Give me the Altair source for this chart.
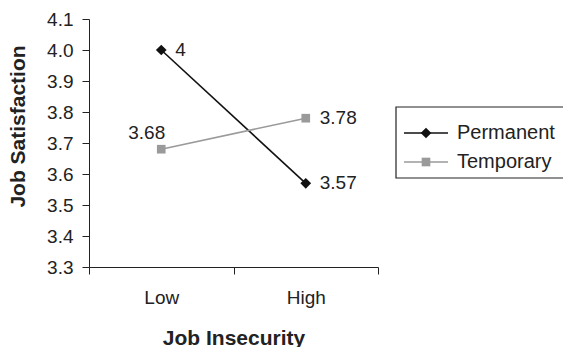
import altair as alt
import pandas as pd

categories = ["Low", "High"]
series = ["Permanent", "Temporary"]
permanent = [4.0, 3.57]
temporary = [3.68, 3.78]
label_perm = ["4", "3.57"]
label_temp = ["3.68", "3.78"]

rows = []
for c, v, l in zip(categories, permanent, label_perm):
    rows.append({"cat": c, "series": "Permanent", "value": v, "label": l})
for c, v, l in zip(categories, temporary, label_temp):
    rows.append({"cat": c, "series": "Temporary", "value": v, "label": l})
df = pd.DataFrame(rows)
df_leg = pd.DataFrame({"series": series})

FONT = "Liberation Sans"
TXT = "#222222"
COLORS = ["#111111", "#9a9a9a"]
SHAPES = ["diamond", "square"]
SIZES = [115, 75]

xenc = alt.X("cat:N", sort=categories,
             scale=alt.Scale(paddingInner=0, paddingOuter=0),
             axis=alt.Axis(title="Job Insecurity", labelAngle=0, tickBand="extent",
                           labelFontSize=19, labelPadding=14, tickSize=7,
                           titleFontSize=21, titleFontWeight="bold",
                           titleBaseline="alphabetic", titleY=77,
                           domainColor=TXT, tickColor=TXT, labelColor=TXT,
                           titleColor=TXT, grid=False))
yenc = alt.Y("value:Q",
             scale=alt.Scale(domain=[3.3, 4.1], nice=False, zero=False),
             axis=alt.Axis(title="Job Satisfaction", values=[3.3, 3.4, 3.5, 3.6, 3.7, 3.8, 3.9, 4.0, 4.1],
                           format=".1f", labelFontSize=19, labelPadding=9, tickSize=7,
                           titleFontSize=21, titleFontWeight="bold",
                           titleAngle=270, titleX=-65, titleY=107, titleAlign="center",
                           titleBaseline="alphabetic",
                           domainColor=TXT, tickColor=TXT, labelColor=TXT,
                           titleColor=TXT, grid=False))

color_scale = alt.Scale(domain=series, range=COLORS)

base = alt.Chart(df)

lines = base.mark_line(strokeWidth=1.6).encode(
    x=xenc, y=yenc,
    color=alt.Color("series:N", scale=color_scale, legend=None),
)

points = base.mark_point(filled=True, opacity=1).encode(
    x=xenc, y=yenc,
    color=alt.Color("series:N", scale=color_scale, legend=None),
    shape=alt.condition(alt.datum.series == "Permanent", alt.value("diamond"), alt.value("square")),
    size=alt.condition(alt.datum.series == "Permanent", alt.value(115), alt.value(75)),
)

text_right = base.transform_filter(
    alt.datum.label != "3.68"
).mark_text(align="left", baseline="middle", dx=14, fontSize=19, font=FONT, color=TXT).encode(
    x=xenc, y=yenc, text="label:N"
)

text_left = base.transform_filter(
    alt.datum.label == "3.68"
).mark_text(align="right", baseline="alphabetic", dx=4, dy=-10, fontSize=19, font=FONT, color=TXT).encode(
    x=xenc, y=yenc, text="label:N"
)

# legend (drawn as a box with one row per series)
leg_base = alt.Chart(df_leg)
legend_layers = [
    leg_base.transform_filter(alt.datum.series == series[0]).mark_rect(
        fill="white", stroke="#222222", strokeWidth=1.2
    ).encode(x=alt.value(307), x2=alt.value(480), y=alt.value(88), y2=alt.value(159))
]
for i, s in enumerate(series):
    yy = 114 + 29 * i
    row = leg_base.transform_filter(alt.datum.series == s)
    legend_layers.append(
        row.mark_rule(strokeWidth=1.6, color=COLORS[i]).encode(
            x=alt.value(315), x2=alt.value(359), y=alt.value(yy))
    )
    legend_layers.append(
        row.mark_point(filled=True, opacity=1, color=COLORS[i], shape=SHAPES[i], size=SIZES[i]).encode(
            x=alt.value(337), y=alt.value(yy))
    )
    legend_layers.append(
        row.mark_text(align="left", baseline="middle", fontSize=20, font=FONT, color=TXT).encode(
            x=alt.value(368), y=alt.value(yy), text="series:N")
    )

chart = alt.layer(lines, points, text_right, text_left, *legend_layers).properties(
    width=289, height=248,
    autosize=alt.AutoSizeParams(type="none"),
    padding={"left": 89, "top": 19, "right": 185, "bottom": 80},
    background="white",
).configure(font=FONT).configure_view(stroke=None)

chart.save("out.html", embed_options={"renderer": "svg", "actions": False})
